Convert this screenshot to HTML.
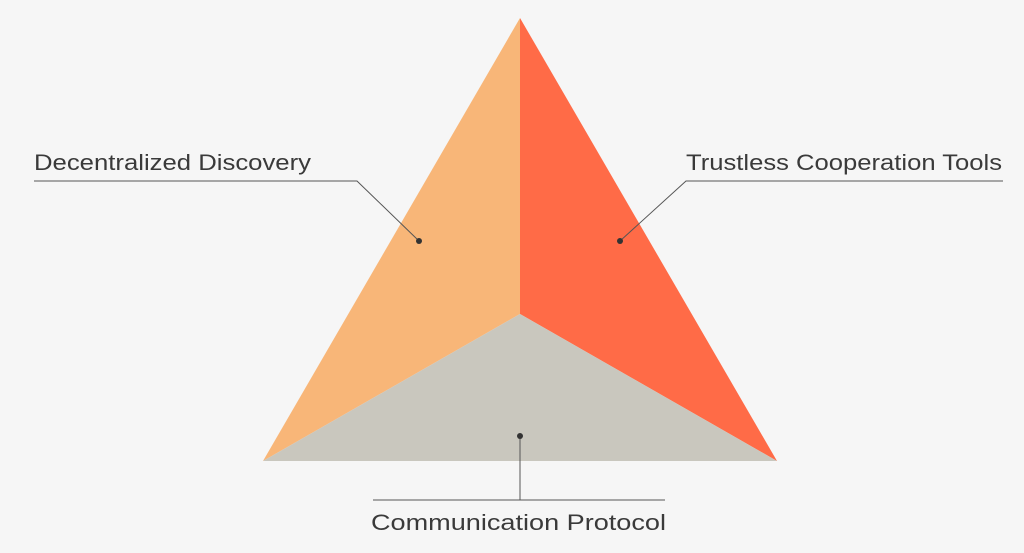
<!DOCTYPE html>
<html><head><style>
html,body{margin:0;padding:0;background:#f6f6f6;}
svg{display:block}
text{font-family:"Liberation Sans",sans-serif;font-size:22px;fill:#3a3a3a}
</style></head><body>
<svg width="1024" height="553" viewBox="0 0 1024 553">
<rect width="1024" height="553" fill="#f6f6f6"/>
<polygon points="520,18 520,314 263,461" fill="#f8b678"/>
<polygon points="520,18 777,461 520,314" fill="#ff6b47"/>
<polygon points="263,461 520,314 777,461" fill="#c9c7be"/>
<g stroke="#555" stroke-width="1" fill="none">
<polyline points="34,181 357,181 419,241"/>
<polyline points="1003,181 686,181 620,241"/>
<line x1="520" y1="436" x2="520" y2="500"/>
<line x1="373" y1="500" x2="665" y2="500"/>
</g>
<g fill="#333">
<circle cx="419" cy="241" r="3"/>
<circle cx="620" cy="241" r="3"/>
<circle cx="520" cy="436" r="3"/>
</g>
<text x="34" y="170" textLength="277" lengthAdjust="spacingAndGlyphs">Decentralized Discovery</text>
<text x="686" y="170" textLength="316" lengthAdjust="spacingAndGlyphs">Trustless Cooperation Tools</text>
<text x="371" y="530" textLength="295" lengthAdjust="spacingAndGlyphs">Communication Protocol</text>
</svg>
</body></html>
